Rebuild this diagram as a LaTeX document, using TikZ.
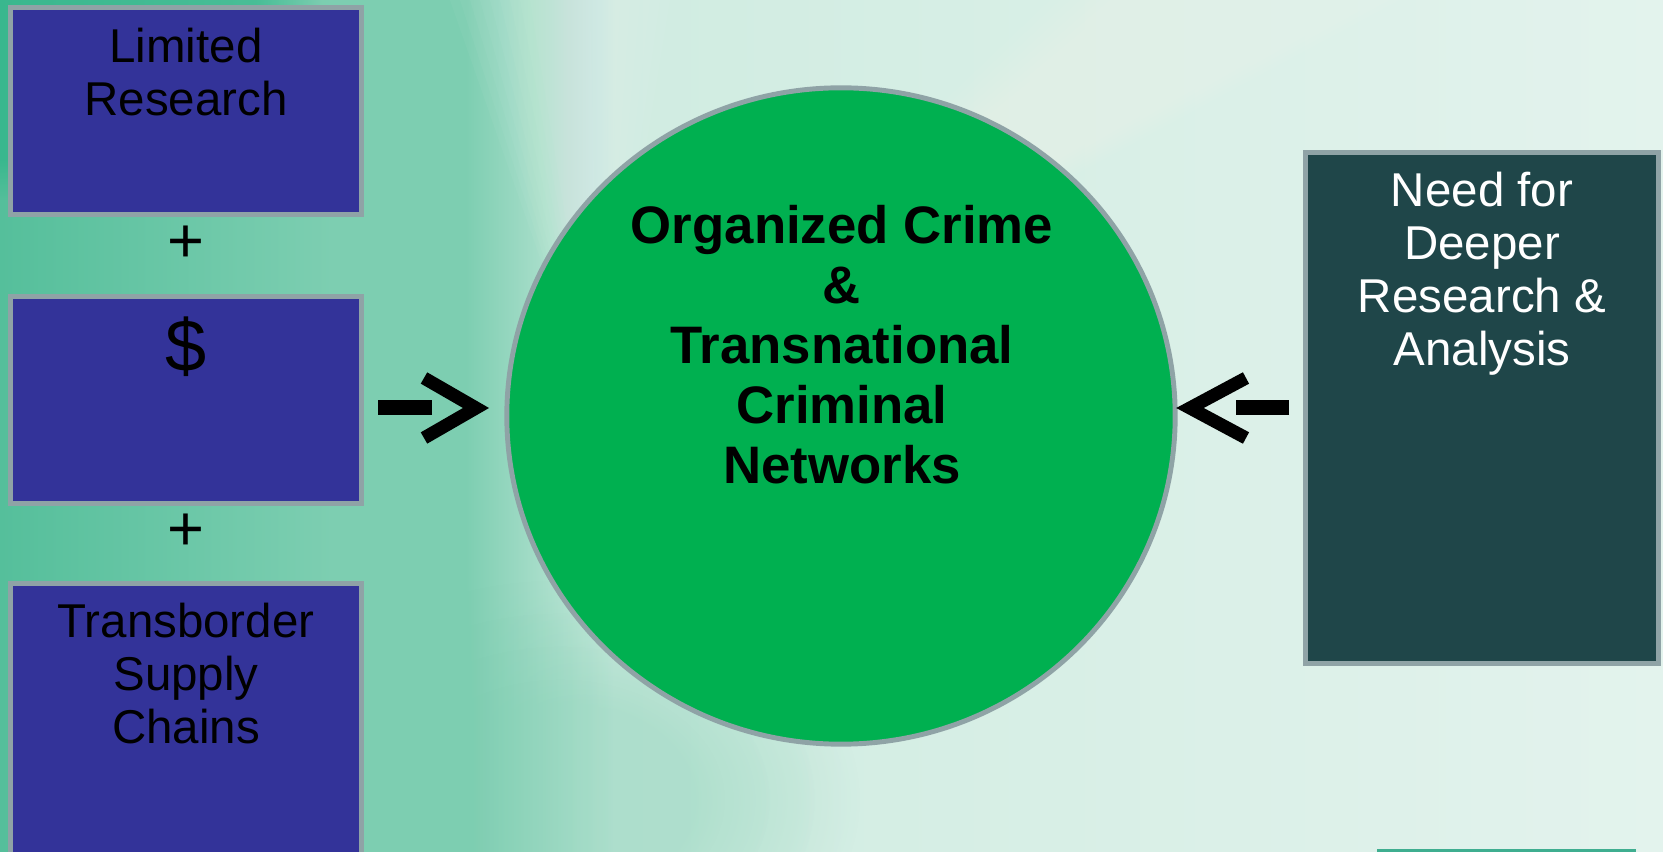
\documentclass[tikz,border=0pt]{standalone}
\usepackage{fontspec}
\setmainfont{Liberation Sans}
\usetikzlibrary{shapes.geometric,fadings}

\definecolor{boxblue}{HTML}{333399}
\definecolor{boxteal}{HTML}{1F4649}
\definecolor{ringgray}{HTML}{8FA3A6}
\definecolor{crimegreen}{HTML}{00B050}
\definecolor{bgcorner}{HTML}{1FB182}
\definecolor{bgdark}{HTML}{55BF9B}
\definecolor{bgmid}{HTML}{7DCEB1}
\definecolor{bglight}{HTML}{D0ECE1}
\definecolor{bgpale}{HTML}{E3F3ED}
\definecolor{sliver}{HTML}{3FAE90}

% backdrop, dark green on the left fading to pale on the right
\pgfdeclarehorizontalshading{slidebg}{100bp}{color(0bp)=(bgdark); color(25bp)=(bgdark);
  color(35bp)=(bgmid); color(39bp)=(bgmid); color(43.5bp)=(bglight); color(75bp)=(bgpale); color(100bp)=(bgpale)}

\begin{document}
\begin{tikzpicture}[x=0.01cm, y=-0.01cm,
    srcbox/.style={rectangle, draw=ringgray, line width=1.4pt, fill=boxblue,
      minimum width=3.51cm, minimum height=2.07cm},
    needbox/.style={rectangle, draw=ringgray, line width=1.4pt, fill=boxteal,
      minimum width=3.53cm, minimum height=5.11cm},
    boxtext/.style={font=\fontsize{13.5}{15.1}\selectfont, align=center, anchor=north, inner sep=0pt},
    plussign/.style={font=\fontsize{18}{18}\selectfont, inner sep=0pt},
    dashbar/.style={line width=4.3pt},
    chevron/.style={line width=3.7pt, miter limit=10}]
  \useasboundingbox (0,0) rectangle (1663,852);
  \clip (0,0) rectangle (1663,852);

  % background
  \shade[shading=slidebg] (0,0) rectangle (1663,852);
  \fill[bgcorner, opacity=.5, path fading=circle with fuzzy edge 20 percent] (0,0) ellipse (320 and 200);
  \foreach \d in {0,10,...,80}
    \fill[white, opacity=.035] (600,430) -- (530-\d,0) -- (590+\d,0) -- cycle;
  \foreach \d in {0,10,...,100}
    \fill[white, opacity=.03] (600,430) -- (1150-\d,0) -- (1300+\d,0) -- cycle;
  \foreach \d in {0,10,...,80}
    \fill[white, opacity=.025] (600,430) -- (1663,80-\d) -- (1663,200+\d) -- cycle;
  \foreach \r in {1,0.85,0.7,0.55}
    \fill[bgmid, opacity=.12, path fading=circle with fuzzy edge 20 percent] (560,800) ellipse ({300*\r} and {220*\r});
  \fill[sliver] (1377,849) rectangle (1636,870);

  % left column
  \node[srcbox] (lim) at (186,111) {};
  \node[boxtext] (limtxt) at (186,27) {Limited\\Research};
  \node[plussign] (plusa) at (186,244) {+};
  \node[srcbox] (money) at (186,400) {};
  \node[font=\fontsize{21}{21}\selectfont, inner sep=0pt] (moneytxt) at (186,347) {\$};
  \node[plussign] (plusb) at (186,532) {+};
  \node[srcbox, minimum height=3.5cm] (chain) at (186,759) {};
  \node[boxtext] (chaintxt) at (186,602) {Transborder\\Supply\\Chains};

  % centre
  \node[ellipse, draw=ringgray, line width=1.4pt, fill=crimegreen,
    minimum width=6.68cm, minimum height=6.56cm, inner sep=0pt] (crime) at (841,416) {};
  \node[boxtext, font=\bfseries\fontsize{15}{17}\selectfont] (crimetxt) at (842,205)
    {Organized Crime\\\&\\Transnational\\Criminal\\Networks};

  % right
  \node[needbox] (need) at (1482,408) {};
  \node[boxtext, text=white] (needtxt) at (1482,171) {Need for\\Deeper\\Research \&\\Analysis};

  % arrows into the circle
  \coordinate (la) at (378,407.5);
  \coordinate (lb) at (432,407.5);
  \draw[dashbar] (la) -- (lb);
  \draw[chevron] (424,378) -- (476,408) -- (424,438);
  \coordinate (ra) at (1289,407.5);
  \coordinate (rb) at (1236,407.5);
  \draw[dashbar] (ra) -- (rb);
  \draw[chevron] (1246,378) -- (1190,408) -- (1246,438);
\end{tikzpicture}
\end{document}
